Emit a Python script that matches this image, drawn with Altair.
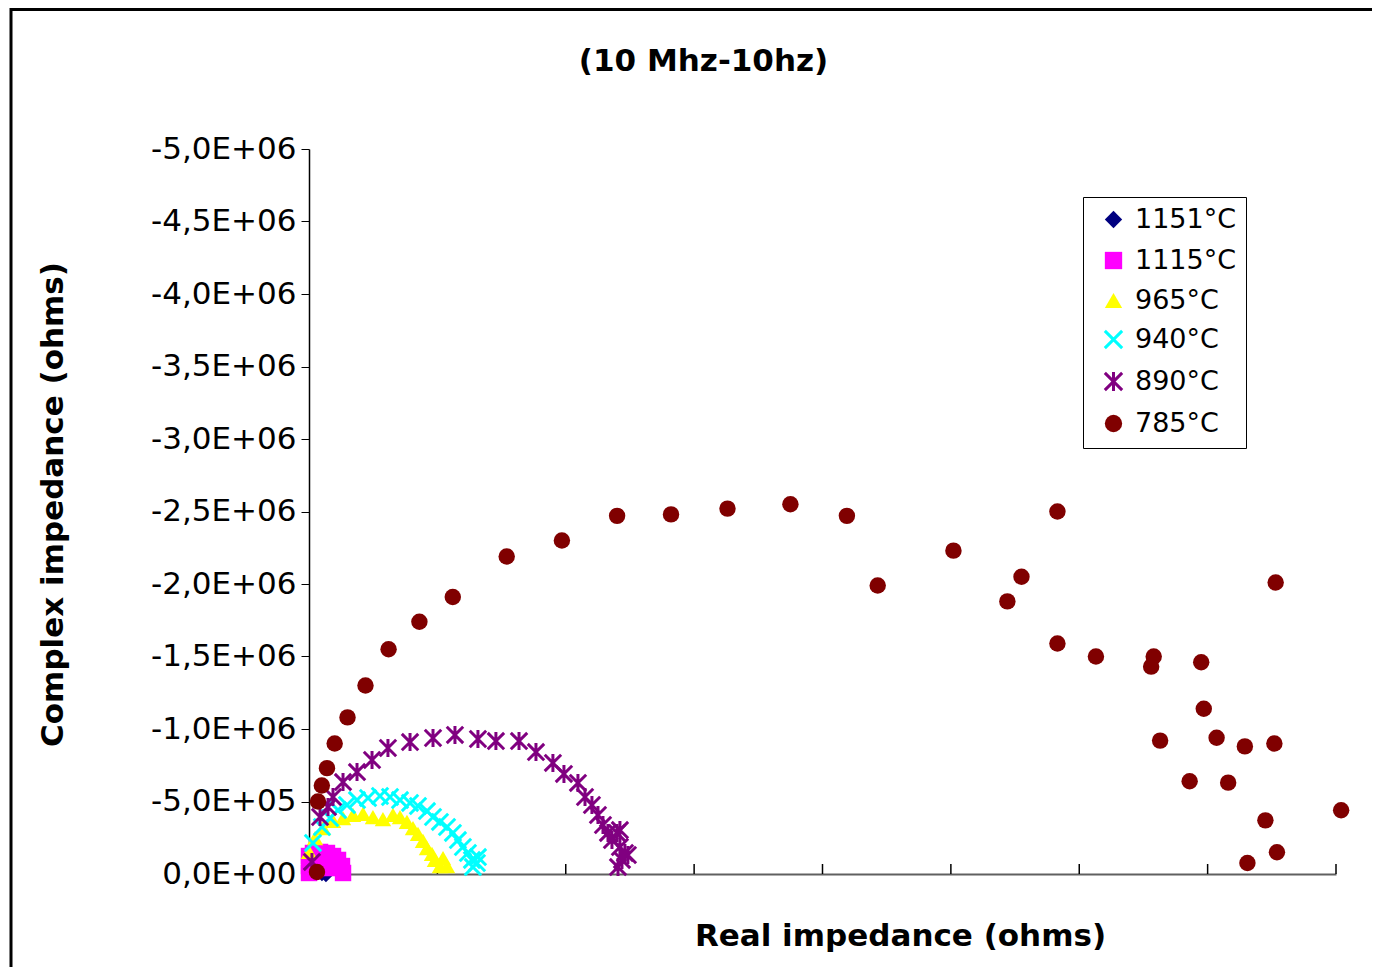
import altair as alt
import pandas as pd

# ---------------- data ----------------
series_names = ["1151°C", "1115°C", "965°C", "940°C", "890°C", "785°C"]

x_1151 = [8000, 39000, 70000, 101000, 132000]
y_1151 = [55000, 28000, 14000, 7000, 0]

x_1115 = [0, 0, 0, 31000, 86000, 140000, 187000, 226000, 257000, 265000, 86000, 164000]
y_1115 = [124000, 55000, 7000, 145000, 152000, 145000, 124000, 97000, 55000, 7000, 55000, 41000]

x_965 = [0, 47000, 109000, 187000, 265000, 343000, 421000, 498000, 576000, 654000, 709000,
         763000, 810000, 849000, 888000, 919000, 958000, 981000, 1020000, 1075000, 1044000]
y_965 = [152000, 248000, 317000, 366000, 386000, 407000, 414000, 393000, 379000, 407000, 393000,
         359000, 317000, 276000, 228000, 179000, 138000, 97000, 55000, 55000, 110000]

x_940 = [31000, 101000, 164000, 226000, 296000, 374000, 460000, 553000, 631000, 709000, 787000,
         849000, 919000, 966000, 1020000, 1075000, 1121000, 1160000, 1199000, 1238000, 1269000,
         1308000, 1277000, 1316000]
y_940 = [214000, 324000, 386000, 441000, 476000, 510000, 524000, 538000, 531000, 510000, 490000,
         469000, 434000, 393000, 359000, 324000, 283000, 234000, 186000, 145000, 97000,
         76000, 48000, 117000]

x_890 = [23000, 86000, 148000, 187000, 265000, 374000, 491000, 615000, 787000, 966000, 1137000,
         1316000, 1456000, 1636000, 1768000, 1900000, 1986000, 2095000, 2150000, 2204000, 2251000,
         2290000, 2329000, 2360000, 2399000, 2422000, 2422000, 2461000, 2438000, 2407000, 2484000]
y_890 = [83000, 393000, 462000, 531000, 634000, 703000, 786000, 869000, 910000, 938000, 959000,
         931000, 917000, 917000, 841000, 766000, 690000, 628000, 531000, 476000, 407000,
         338000, 283000, 234000, 283000, 303000, 186000, 145000, 97000, 48000, 131000]

x_785 = [62000, 70000, 100000, 140000, 200000, 300000, 440000, 620000, 860000, 1120000, 1540000,
         1970000, 2400000, 2820000, 3260000, 3750000, 4190000, 4430000, 5020000, 5440000, 5550000,
         5830000, 5830000, 6130000, 6580000, 6560000, 6950000, 6970000, 6630000, 7070000, 7290000,
         7520000, 7530000, 6860000, 7160000, 8040000, 7450000, 7540000, 7310000]
y_785 = [14000, 500000, 610000, 730000, 900000, 1080000, 1300000, 1550000, 1740000, 1910000, 2190000,
         2300000, 2470000, 2480000, 2520000, 2550000, 2470000, 1990000, 2230000, 1880000, 2050000,
         2500000, 1590000, 1500000, 1500000, 1430000, 1460000, 1140000, 920000, 940000, 880000,
         900000, 2010000, 640000, 630000, 440000, 370000, 150000, 76000]

x_ticks = [0, 1000000, 2000000, 3000000, 4000000, 5000000, 6000000, 7000000, 8000000]
y_ticks = [0, 500000, 1000000, 1500000, 2000000, 2500000, 3000000, 3500000, 4000000, 4500000, 5000000]

xs_all = [x_1151, x_1115, x_965, x_940, x_890, x_785]
ys_all = [y_1151, y_1115, y_965, y_940, y_890, y_785]

rows = []
for name, xs, ys in zip(series_names, xs_all, ys_all):
    for xv, yv in zip(xs, ys):
        rows.append({"series": name, "re": xv, "im": yv})
df = pd.DataFrame(rows)
ticks_df = pd.DataFrame({"re": x_ticks})

# ---------------- styling ----------------
fill_range = ["#000080", "#FF00FF", "#FFFF00", "transparent", "transparent", "#800000"]
stroke_range = ["transparent", "transparent", "transparent", "#00FFFF", "#800080", "transparent"]
x_path = "M-1,-1L1,1M-1,1L1,-1"
star_path = "M-1,-1L1,1M-1,1L1,-1M0,-1.1L0,1.1"
shape_range = ["diamond", "square", "triangle-up", x_path, star_path, "circle"]

W, H = 1027, 725

x_scale = alt.Scale(domain=[0, 8000000], nice=False, zero=False)
y_scale = alt.Scale(domain=[0, 5000000], nice=False)

x_axis = alt.Axis(
    title="Real impedance (ohms)", labels=False, ticks=False, grid=False,
    domainColor="#606060", domainWidth=2,
    titleX=591, titleY=47, titleFontSize=31,
)

y_label_expr = (
    "datum.value == 0 ? '0,0E+00' : (datum.value < 1000000 ? "
    "'-' + replace(format(datum.value / 100000, '.1f'), '.', ',') + 'E+05' : "
    "'-' + replace(format(datum.value / 1000000, '.1f'), '.', ',') + 'E+06')"
)
y_axis = alt.Axis(
    title="Complex impedance (ohms)", values=y_ticks, labelExpr=y_label_expr, grid=False,
    tickSize=8, tickColor="black", domainColor="black", domainWidth=1.5,
    labelPadding=5, labelFontSize=31, titleX=-240, titleY=355, titleFontSize=31,
)

legend_kw = dict(
    title=None, orient="none", legendX=774, legendY=48,
    strokeColor="black", fillColor="white", padding=9,
    symbolOffset=8, labelOffset=8, rowPadding=10,
    labelFont="DejaVu Sans", labelFontSize=27, labelColor="black",
    symbolSize=300, symbolStrokeWidth=3,
)

frame = alt.Chart(pd.DataFrame({"a": [0]})).mark_rect(
    fillOpacity=0, stroke="black", strokeWidth=3
).encode(
    x=alt.value(-298), x2=alt.value(1100), y=alt.value(-139.5), y2=alt.value(900)
)

tick_rules = alt.Chart(ticks_df).mark_rule(color="black", strokeWidth=1.5).encode(
    x=alt.X("re:Q", scale=x_scale, axis=x_axis),
    y=alt.value(H - 10), y2=alt.value(H),
)

points = alt.Chart(df).mark_point(size=270, strokeWidth=3, opacity=1).encode(
    x=alt.X("re:Q", scale=x_scale, axis=x_axis),
    y=alt.Y("im:Q", scale=y_scale, axis=y_axis),
    fill=alt.Fill("series:N", scale=alt.Scale(domain=series_names, range=fill_range),
                  legend=alt.Legend(**legend_kw)),
    stroke=alt.Stroke("series:N", scale=alt.Scale(domain=series_names, range=stroke_range),
                      legend=alt.Legend(**legend_kw)),
    shape=alt.Shape("series:N", scale=alt.Scale(domain=series_names, range=shape_range),
                    legend=alt.Legend(**legend_kw)),
)

chart = alt.layer(frame, tick_rules, points).properties(
    width=W, height=H,
    title=alt.TitleParams(
        "(10 Mhz-10hz)", font="DejaVu Sans", fontSize=31, fontWeight="bold",
        color="black", anchor="middle", frame="group", dx=-119, offset=0, dy=70,
    ),
    autosize=alt.AutoSizeParams(type="none"),
    padding={"left": 301, "top": 141, "right": 36, "bottom": 93},
    background="white",
).configure_view(stroke=None).configure_axis(
    labelFont="DejaVu Sans", labelColor="black",
    titleFont="DejaVu Sans", titleFontWeight="bold", titleColor="black",
)

chart.save("out.html", embed_options={"renderer": "svg", "actions": False})
